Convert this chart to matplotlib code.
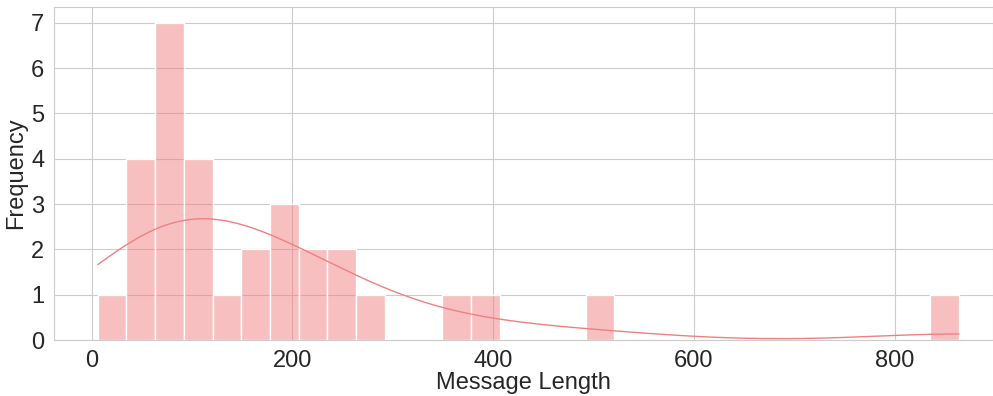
import matplotlib
matplotlib.use("Agg")
import matplotlib.pyplot as plt
from matplotlib.ticker import MultipleLocator
import seaborn as sns
import numpy as np

message_lengths = [
    6,
    40, 48, 55, 60,
    65, 70, 74, 78, 82, 86, 90,
    95, 102, 110, 117,
    135,
    160, 172,
    185, 195, 202,
    215, 228,
    242, 255,
    278,
    362,
    390,
    505,
    864,
]
n_bins = 30

sns.set_style("whitegrid")
plt.rcParams["font.family"] = ["Liberation Sans", "DejaVu Sans"]
fig, ax = plt.subplots(figsize=(9.93, 3.96), dpi=100)
sns.histplot(x=np.array(message_lengths), bins=n_bins, kde=True, color="lightcoral",
             alpha=0.5, edgecolor="white", linewidth=1, ax=ax,
             line_kws={"linewidth": 1})
ax.set_xlabel("Message Length", fontsize=17, labelpad=0)
ax.set_ylabel("Frequency", fontsize=17, labelpad=3)
ax.tick_params(axis="both", labelsize=17)
ax.tick_params(axis="x", pad=4)
ax.yaxis.set_major_locator(MultipleLocator(1))
ax.set_xlim(-37.6, 898)
ax.set_ylim(0, 7.35)
for s in ax.spines.values():
    s.set_color("#cccccc")
fig.subplots_adjust(left=0.0544, right=1.0, top=0.9823, bottom=0.1414)
fig.savefig("out.png", dpi=100)
